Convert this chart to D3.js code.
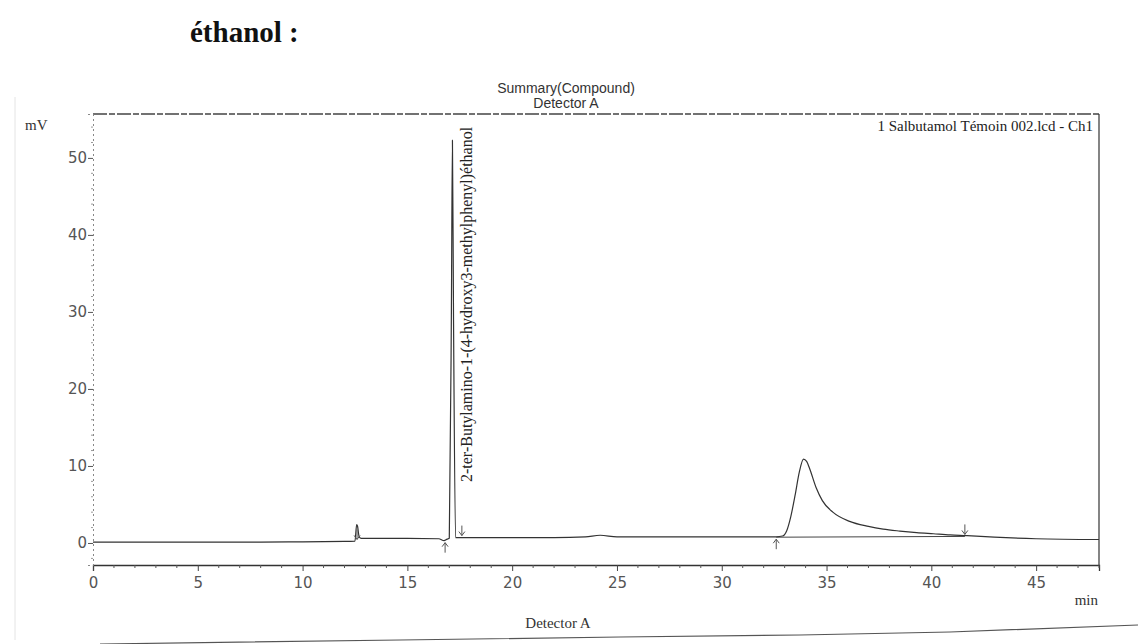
<!DOCTYPE html>
<html>
<head>
<meta charset="utf-8">
<script src="https://cdn.jsdelivr.net/npm/d3@7"></script>
<style>
  body { margin: 0; background: #fff; }
  svg { display: block; }
</style>
</head>
<body>
<script>
// chromatogram trace (min, mV)
var timeMin = [0, 1, 3, 5, 8, 10, 12, 12.5, 12.58, 12.62, 12.7, 12.8, 13, 15, 16.5, 16.75, 16.9, 17.0, 17.1, 17.15, 17.2, 17.3, 17.5, 18, 20, 22, 23.5, 24.2, 25, 27, 30, 32, 32.6, 32.9, 33.1, 33.3, 33.5, 33.7, 33.9, 34.05, 34.2, 34.5, 34.8, 35.3, 36.1, 37, 37.7, 38.5, 39.3, 40.1, 40.9, 41.7, 43, 45, 48];
var signalMv = [0.1, 0.1, 0.1, 0.1, 0.1, 0.15, 0.2, 0.25, 2.4, 2.2, 0.8, 0.6, 0.6, 0.6, 0.55, 0.3, 0.5, 0.6, 30, 52.3, 30, 0.7, 0.7, 0.7, 0.7, 0.7, 0.8, 1.0, 0.8, 0.8, 0.8, 0.8, 0.8, 0.9, 1.6, 3.5, 6.2, 9.2, 10.9, 10.6, 9.6, 7.2, 5.5, 4.0, 2.8, 2.15, 1.8, 1.55, 1.35, 1.2, 1.05, 0.95, 0.75, 0.55, 0.45];

// integration baseline under the main peak
var baseT = [32.6, 41.6];
var baseV = [0.75, 0.85];

// peak start / end markers: time, level, direction
var markT = [12.6, 16.8, 17.6, 32.6, 41.6];
var markV = [0.2, 0.3, 0.7, 0.75, 0.85];
var markDir = ["down", "up", "down", "up", "down"];

var xTicks = [0, 5, 10, 15, 20, 25, 30, 35, 40, 45];
var yTicks = [0, 10, 20, 30, 40, 50];

var peakName = "2-ter-Butylamino-1-(4-hydroxy3-methylphenyl)éthanol";
var fileLabel = "1 Salbutamol Témoin 002.lcd - Ch1";

var width = 1138, height = 644;
var svg = d3.select("body").append("svg")
    .attr("width", width)
    .attr("height", height);

var x = d3.scaleLinear().domain([0, 48]).range([93, 1099]);
var y = d3.scaleLinear().domain([-2.86, 55.7]).range([565, 114]);

var serif = "'Liberation Serif', 'Times New Roman', serif";
var sans = "'DejaVu Sans', Verdana, sans-serif";

// scan edges
svg.append("line")
    .attr("x1", 15).attr("y1", 97).attr("x2", 15).attr("y2", 640)
    .attr("stroke", "#e4e4e4").attr("stroke-width", 1);
svg.append("path")
    .attr("d", "M100,644 L400,640 L620,637 L800,635 L950,632 L1138,625")
    .attr("fill", "none").attr("stroke", "#555").attr("stroke-width", 1.2);

// heading above the figure
svg.append("text")
    .attr("x", 190).attr("y", 42)
    .attr("font-family", serif).attr("font-weight", "bold")
    .attr("font-size", "29px").attr("fill", "#111")
    .text("éthanol :");

svg.append("text")
    .attr("x", 566).attr("y", 93)
    .attr("text-anchor", "middle")
    .attr("font-family", "'Liberation Sans', Arial, sans-serif")
    .attr("font-size", "14px").attr("fill", "#333")
    .text("Summary(Compound)");
svg.append("text")
    .attr("x", 566).attr("y", 108)
    .attr("text-anchor", "middle")
    .attr("font-family", "'Liberation Sans', Arial, sans-serif")
    .attr("font-size", "14px").attr("fill", "#333")
    .text("Detector A");

// frame: dashed top, solid right
svg.append("line")
    .attr("x1", x(0)).attr("y1", y(55.7)).attr("x2", x(48)).attr("y2", y(55.7))
    .attr("stroke", "#444").attr("stroke-width", 1.3)
    .attr("stroke-dasharray", "14,2,6,2");
svg.append("line")
    .attr("x1", x(48)).attr("y1", y(55.7)).attr("x2", x(48)).attr("y2", y(-2.86))
    .attr("stroke", "#333").attr("stroke-width", 1.2);

// x axis
var xAxis = svg.append("g")
    .attr("transform", "translate(0," + y(-2.86) + ")")
    .call(d3.axisBottom(x).tickValues(xTicks).tickSize(6).tickPadding(6).tickFormat(d3.format("d")));
xAxis.select(".domain").attr("stroke", "#333").attr("stroke-width", 1.3);
xAxis.selectAll(".tick line").attr("stroke", "#444");
xAxis.selectAll("text").attr("font-family", sans).attr("font-size", "15px").attr("fill", "#555");
xAxis.selectAll(".minor")
    .data(d3.range(1, 49).filter(d => d % 5 != 0))
    .enter().append("line")
    .attr("x1", d => x(d)).attr("x2", d => x(d))
    .attr("y1", 0).attr("y2", 3)
    .attr("stroke", "#555");

// y axis, dotted like the scan
var yAxis = svg.append("g")
    .attr("transform", "translate(" + x(0) + ",0)")
    .call(d3.axisLeft(y).tickValues(yTicks).tickSize(5).tickPadding(1));
yAxis.select(".domain").attr("stroke", "#888").attr("stroke-dasharray", "2,3");
yAxis.selectAll(".tick line").attr("stroke", "#555");
yAxis.selectAll("text").attr("font-family", sans).attr("font-size", "15px").attr("fill", "#555");
yAxis.selectAll(".minor")
    .data(d3.range(-2, 55, 2).filter(d => d % 10 != 0))
    .enter().append("line")
    .attr("x1", -2).attr("x2", 0)
    .attr("y1", d => y(d)).attr("y2", d => y(d))
    .attr("stroke", "#999");

svg.append("text")
    .attr("x", 25).attr("y", 130)
    .attr("font-family", serif).attr("font-size", "15px").attr("fill", "#333")
    .text("mV");

svg.append("text")
    .attr("x", 1093).attr("y", 131)
    .attr("text-anchor", "end")
    .attr("font-family", serif).attr("font-size", "15px").attr("fill", "#222")
    .text(fileLabel);

// trace
var line = d3.line()
    .x((d, i) => x(timeMin[i]))
    .y(d => y(d))
    .curve(d3.curveMonotoneX);
svg.append("path")
    .datum(signalMv)
    .attr("d", line)
    .attr("fill", "none")
    .attr("stroke", "#333")
    .attr("stroke-width", 1.2)
    .attr("stroke-linejoin", "round");

svg.append("path")
    .datum(baseV)
    .attr("d", d3.line().x((d, i) => x(baseT[i])).y(d => y(d)))
    .attr("fill", "none")
    .attr("stroke", "#444")
    .attr("stroke-width", 1);

// small arrows at peak boundaries
markT.forEach(function (t, i) {
    var px = x(t), py = y(markV[i]);
    var d;
    if (markDir[i] == "up") {
        d = "M" + px + "," + (py + 12) + "L" + px + "," + (py + 2) +
            "M" + (px - 3) + "," + (py + 6) + "L" + px + "," + (py + 2) + "L" + (px + 3) + "," + (py + 6);
    } else {
        d = "M" + px + "," + (py - 12) + "L" + px + "," + (py - 2) +
            "M" + (px - 3) + "," + (py - 6) + "L" + px + "," + (py - 2) + "L" + (px + 3) + "," + (py - 6);
    }
    svg.append("path").attr("d", d)
        .attr("fill", "none").attr("stroke", "#555").attr("stroke-width", 1);
});

// peak name, written up the page next to the spike
svg.append("text")
    .attr("transform", "translate(" + (x(17.15) + 20) + "," + 482 + ") rotate(-90)")
    .attr("font-family", serif).attr("font-size", "16px").attr("fill", "#222")
    .text(peakName);

svg.append("text")
    .attr("x", 1098).attr("y", 605)
    .attr("text-anchor", "end")
    .attr("font-family", serif).attr("font-size", "15px").attr("fill", "#333")
    .text("min");

svg.append("text")
    .attr("x", 558).attr("y", 628)
    .attr("text-anchor", "middle")
    .attr("font-family", serif).attr("font-size", "15px").attr("fill", "#333")
    .text("Detector A");
</script>
</body>
</html>
